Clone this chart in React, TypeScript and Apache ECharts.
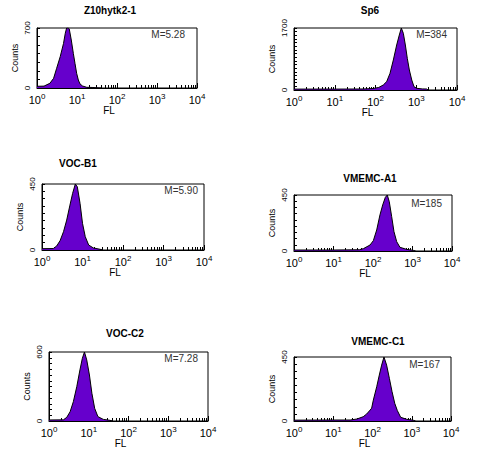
import React, { useEffect, useRef } from "react";
import * as echarts from "echarts";

// ---- data ----
const titles = ["Z10hytk2-1", "Sp6", "VOC-B1", "VMEMC-A1", "VOC-C2", "VMEMC-C1"];
const meanLabels = ["M=5.28", "M=384", "M=5.90", "M=185", "M=7.28", "M=167"];
const yMaxes = [700, 1700, 450, 450, 600, 450];
const yTickSteps = [100, 100, 50, 50, 50, 50];
const xTickValues = [1, 10, 100, 1000, 10000];
const xMinorTickValues = [2, 3, 4, 5, 6, 7, 8, 9, 20, 30, 40, 50, 60, 70, 80, 90, 200, 300, 400, 500, 600, 700, 800, 900, 2000, 3000, 4000, 5000, 6000, 7000, 8000, 9000];

const flZ10 = [1, 1.5, 2.1, 2.6, 3.1, 3.8, 4.6, 5.1, 5.5, 6.0, 6.4, 7.2, 8.1, 8.9, 9.8, 10.8, 11.9, 13.8, 17.5, 25, 30, 40];
const countsZ10 = [20, 22, 55, 113, 230, 365, 520, 640, 700, 700, 690, 560, 404, 288, 171, 93, 47, 23, 8, 6, 3, 0];

const flSp6 = [1, 10, 50, 87, 120, 155, 188, 227, 274, 331, 384, 430, 482, 540, 603, 677, 776, 881, 1025, 1400, 1800, 1950];
const countsSp6 = [25, 25, 28, 40, 70, 137, 230, 457, 823, 1234, 1508, 1700, 1554, 1234, 868, 548, 274, 91, 46, 30, 27, 0];

const flVOCB1 = [1, 1.9, 2.3, 2.8, 3.4, 4.07, 4.9, 5.7, 6.65, 7.45, 8.7, 10, 11.7, 14.2, 18.5, 27, 32];
const countsVOCB1 = [9, 10, 27, 64, 125, 204, 306, 386, 450, 431, 318, 182, 91, 34, 14, 5, 0];

const flVMEMCA1 = [1, 10, 45, 57, 84, 102, 124, 150, 176, 205, 230, 258, 297, 340, 398, 481, 713, 1050, 1200];
const countsVMEMCA1 = [8, 8, 10, 19, 48, 83, 169, 290, 370, 431, 450, 397, 276, 155, 75, 30, 13, 5, 0];

const flVOCC2 = [1, 2.3, 2.8, 3.4, 4.1, 5.0, 6.0, 6.9, 7.8, 8.9, 10.4, 12, 14.1, 17, 23.3, 34, 40];
const countsVOCC2 = [9, 10, 32, 81, 168, 299, 444, 545, 600, 531, 400, 241, 110, 38, 14, 6, 0];

const flVMEMCC1 = [1, 10, 27, 40, 58, 71, 87, 95, 105, 128, 149, 171, 196, 229, 269, 315, 369, 430, 523, 743, 1100, 1250];
const countsVMEMCC1 = [6, 7, 7, 14, 30, 49, 77, 90, 147, 241, 323, 393, 450, 393, 300, 206, 124, 73, 26, 12, 5, 0];

const flSets = [flZ10, flSp6, flVOCB1, flVMEMCA1, flVOCC2, flVMEMCC1];
const countSets = [countsZ10, countsSp6, countsVOCB1, countsVMEMCA1, countsVOCC2, countsVMEMCC1];

// ---- layout ----
const grids = [
  { left: 37, top: 28, width: 160, height: 60 },
  { left: 294, top: 28, width: 163, height: 62 },
  { left: 42, top: 184, width: 162, height: 66 },
  { left: 294, top: 195, width: 158, height: 56 },
  { left: 49, top: 352, width: 159, height: 69 },
  { left: 294, top: 357, width: 157, height: 64 },
];
const titlePos = [[110, 10], [370, 10], [78, 163], [370, 178], [125, 333], [378, 341]];
const meanPos = [[185, 34], [447, 34], [198, 190], [442, 203], [198, 358], [440, 364]];

const FONT = '"Liberation Sans", Arial, sans-serif';
const FILL = "#6600cc";

export default function App() {
  const ref = useRef<HTMLDivElement>(null);
  useEffect(() => {
    if (!ref.current) return;
    const chart = echarts.init(ref.current, undefined, { renderer: "svg" });
    const xAxes: any[] = [];
    const yAxes: any[] = [];
    const series: any[] = [];
    const graphics: any[] = [];
    grids.forEach((g, i) => {
      xAxes.push({
        type: "log",
        logBase: 10,
        gridIndex: i,
        position: "bottom",
        min: 1,
        max: 10000,
        axisLine: { show: true, lineStyle: { color: "#000", width: 1 } },
        axisTick: { show: true, inside: true, length: 5, customValues: xTickValues, lineStyle: { color: "#000" } },
        splitLine: { show: false },
        axisLabel: {
          show: true,
          customValues: xTickValues,
          margin: 4,
          color: "#000",
          fontSize: 11,
          fontFamily: FONT,
          lineHeight: 16,
          formatter: (v: number) => "10{sup|" + Math.round(Math.log10(v)) + "}",
          rich: { sup: { fontSize: 8, fontFamily: FONT, color: "#000", verticalAlign: "top" } },
        },
      });
      xAxes.push({
        type: "log",
        logBase: 10,
        gridIndex: i,
        position: "bottom",
        min: 1,
        max: 10000,
        axisLine: { show: false },
        axisTick: { show: true, inside: true, length: 3, customValues: xMinorTickValues, lineStyle: { color: "#000" } },
        splitLine: { show: false },
        axisLabel: { show: false },
      });
      const ticks: number[] = [];
      for (let v = 0; v <= yMaxes[i]; v += yTickSteps[i]) ticks.push(v);
      yAxes.push({
        type: "value",
        gridIndex: i,
        min: 0,
        max: yMaxes[i],
        interval: yTickSteps[i],
        name: "Counts",
        nameLocation: "middle",
        nameGap: 18,
        nameTextStyle: { fontSize: 9, fontFamily: FONT, color: "#000" },
        axisLine: { show: true, lineStyle: { color: "#000", width: 1 } },
        axisTick: { show: true, inside: true, length: 3, customValues: ticks, lineStyle: { color: "#000" } },
        splitLine: { show: false },
        axisLabel: {
          show: true,
          customValues: [0, yMaxes[i]],
          rotate: 90,
          margin: 6,
          fontSize: 8,
          fontFamily: FONT,
          color: "#000",
          formatter: (v: number) => String(v),
        },
      });
      series.push({
        type: "line",
        xAxisIndex: 2 * i,
        yAxisIndex: i,
        data: flSets[i].map((x, k) => [x, countSets[i][k]]),
        symbol: "none",
        smooth: false,
        lineStyle: { color: "#000", width: 1 },
        areaStyle: { color: FILL, opacity: 1 },
        clip: true,
      });
      graphics.push({
        type: "text",
        x: titlePos[i][0],
        y: titlePos[i][1],
        style: {
          text: titles[i],
          fill: "#000",
          fontSize: 10,
          fontWeight: "bold",
          fontFamily: FONT,
          align: "center",
          verticalAlign: "middle",
        },
      });
      graphics.push({
        type: "text",
        x: meanPos[i][0],
        y: meanPos[i][1],
        z: 100,
        style: {
          text: meanLabels[i],
          fill: "#333",
          fontSize: 10,
          fontFamily: FONT,
          align: "right",
          verticalAlign: "middle",
        },
      });
      graphics.push({
        type: "text",
        x: g.left + g.width / 2 - 8,
        y: g.top + g.height + 22,
        style: {
          text: "FL",
          fill: "#000",
          fontSize: 10,
          fontFamily: FONT,
          align: "center",
          verticalAlign: "middle",
        },
      });
    });
    chart.setOption({
      animation: false,
      backgroundColor: "#fff",
      grid: grids.map((g) => ({ ...g, show: true, borderColor: "#000", borderWidth: 1, backgroundColor: "transparent" })),
      xAxis: xAxes,
      yAxis: yAxes,
      series,
      graphic: graphics,
    });
    return () => chart.dispose();
  }, []);
  return (
    <div
      ref={ref}
      style={{ position: "absolute", left: 0, top: 0, width: 481, height: 460, background: "#fff" }}
    />
  );
}
